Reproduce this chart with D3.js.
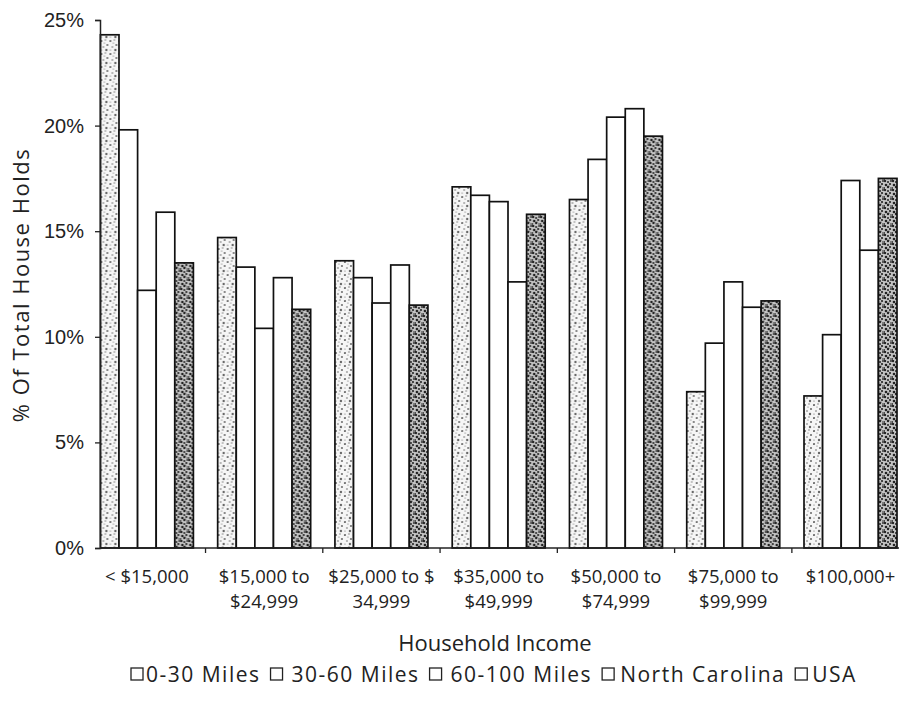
<!DOCTYPE html>
<html>
<head>
<meta charset="utf-8">
<script src="https://cdn.jsdelivr.net/npm/d3@7"></script>
<style>
  body { margin: 0; background: #fff; }
  svg { display: block; font-family: "Open Sans", sans-serif; }
</style>
</head>
<body>
<svg id="chart"></svg>
<script>
// income brackets, two label lines each
const categories = ["< $15,000", "$15,000 to $24,999", "$25,000 to $ 34,999", "$35,000 to $49,999",
    "$50,000 to $74,999", "$75,000 to $99,999", "$100,000+"];
const categoryLines = [["< $15,000"], ["$15,000 to", "$24,999"], ["$25,000 to $", "34,999"],
    ["$35,000 to", "$49,999"], ["$50,000 to", "$74,999"], ["$75,000 to", "$99,999"], ["$100,000+"]];

const seriesNames = ["0-30 Miles", "30-60 Miles", "60-100 Miles", "North Carolina", "USA"];

// % of households, one array per series
const miles0_30 = [24.3, 14.7, 13.6, 17.1, 16.5, 7.4, 7.2];
const miles30_60 = [19.8, 13.3, 12.8, 16.7, 18.4, 9.7, 10.1];
const miles60_100 = [12.2, 10.4, 11.6, 16.4, 20.4, 12.6, 17.4];
const northCarolina = [15.9, 12.8, 13.4, 12.6, 20.8, 11.4, 14.1];
const usa = [13.5, 11.3, 11.5, 15.8, 19.5, 11.7, 17.5];

const yTicks = [0, 5, 10, 15, 20, 25];

const seriesValues = [miles0_30, miles30_60, miles60_100, northCarolina, usa];
const fills = ["url(#speckleLight)", "#fff", "#fff", "#fff", "url(#speckleDark)"];

const W = 899, H = 706;
const svg = d3.select("#chart").attr("width", W).attr("height", H);

svg.append("rect").attr("width", W).attr("height", H).attr("fill", "#fff");

// speckle textures imitating the photocopied shading
const defs = svg.append("defs");
const light = defs.append("pattern").attr("id", "speckleLight")
    .attr("patternUnits", "userSpaceOnUse").attr("width", 9).attr("height", 13);
light.append("rect").attr("width", 9).attr("height", 13).attr("fill", "#f6f6f6");
[[1, 2, 1.1], [5, 1, 0.7], [7, 6, 1.0], [3, 8, 0.8], [6, 11, 1.2], [1, 11, 0.6], [4, 4, 0.6]].forEach(d => {
    light.append("circle").attr("cx", d[0]).attr("cy", d[1]).attr("r", d[2]).attr("fill", "#666");
});
const dark = defs.append("pattern").attr("id", "speckleDark")
    .attr("patternUnits", "userSpaceOnUse").attr("width", 8).attr("height", 9);
dark.append("rect").attr("width", 8).attr("height", 9).attr("fill", "#c4c4c4");
[[1, 1, 1.2], [4, 2, 1.0], [7, 1, 0.9], [2, 5, 1.3], [6, 4, 1.1], [0, 8, 1.0], [4, 7, 1.2], [7, 8, 0.8], [5, 6, 0.6]].forEach(d => {
    dark.append("circle").attr("cx", d[0]).attr("cy", d[1]).attr("r", d[2]).attr("fill", "#222");
});

const x0 = 100.4;
const xScale = d3.scaleBand()
    .domain(categories)
    .range([x0, 897])
    .paddingInner(0.207)
    .paddingOuter(0)
    .align(0);

const xSub = d3.scaleBand()
    .domain(d3.range(seriesNames.length))
    .range([0, xScale.bandwidth()]);

const yScale = d3.scaleLinear().domain([0, 25]).range([548, 20]);

// bars
const groups = svg.selectAll(".grp")
    .data(categories)
    .enter()
    .append("g")
    .attr("class", "grp")
    .attr("transform", d => `translate(${xScale(d)},0)`);

groups.selectAll("rect")
    .data((d, i) => seriesValues.map((s, k) => ({ k: k, v: s[i] })))
    .enter()
    .append("rect")
    .attr("x", d => xSub(d.k))
    .attr("y", d => yScale(d.v))
    .attr("width", xSub.bandwidth())
    .attr("height", d => yScale(0) - yScale(d.v))
    .attr("fill", d => fills[d.k])
    .attr("stroke", "#111")
    .attr("stroke-width", 1.7);

//ось oy
const yAxis = svg.append("g")
    .attr("transform", `translate(${x0 - 0.4},0)`)
    .call(d3.axisLeft(yScale).tickValues(yTicks).tickSize(5).tickFormat(d => d + "%"));
yAxis.select(".domain").attr("stroke", "#222").attr("stroke-width", 1.5);
yAxis.selectAll(".tick line").attr("stroke", "#222").attr("stroke-width", 1.3);
yAxis.selectAll("text")
    .attr("x", -16)
    .style("font-size", "20px")
    .style("fill", "#222");

//ось ox
const step = xScale.step();
const boundaries = categories.slice(1).map(c => xScale(c) - (step - xScale.bandwidth()) / 2);
const xAxisG = svg.append("g").attr("transform", `translate(0,${yScale(0)})`);
xAxisG.append("line")
    .attr("x1", x0).attr("x2", W)
    .attr("stroke", "#222").attr("stroke-width", 1.5);
xAxisG.selectAll(".xt")
    .data(boundaries)
    .enter()
    .append("line")
    .attr("x1", d => d).attr("x2", d => d)
    .attr("y1", 0).attr("y2", 5)
    .attr("stroke", "#222").attr("stroke-width", 1.3);

// category labels
svg.selectAll(".xlab")
    .data(categories)
    .enter()
    .append("text")
    .attr("class", "xlab")
    .attr("text-anchor", "middle")
    .attr("transform", d => `translate(${xScale(d) + xScale.bandwidth() / 2},583)`)
    .style("font-size", "18.5px")
    .style("fill", "#222")
    .each(function (d, i) {
        const t = d3.select(this);
        categoryLines[i].forEach((line, j) => {
            t.append("tspan").attr("x", 0).attr("y", j * 25).text(line);
        });
    });

//подпись оси ox
svg.append("text")
    .attr("x", 495)
    .attr("y", 651)
    .attr("text-anchor", "middle")
    .style("font-size", "22px")
    .style("fill", "#222")
    .text("Household Income");

//подпись оси oy
svg.append("text")
    .attr("transform", "translate(29,285) rotate(-90)")
    .attr("text-anchor", "middle")
    .style("font-size", "22px")
    .style("letter-spacing", "1.5px")
    .style("fill", "#222")
    .text("% Of Total House Holds");

// legend
const legend = svg.append("g").attr("transform", "translate(0,682)");
let lx = 131;
const legendGap = [3, 9, 9, 6, 5];
seriesNames.forEach((name, k) => {
    legend.append("rect")
        .attr("x", lx).attr("y", -14)
        .attr("width", 12).attr("height", 12)
        .attr("fill", "#fff").attr("stroke", "#222").attr("stroke-width", 1.3);
    const t = legend.append("text")
        .attr("x", lx + 12 + legendGap[k])
        .attr("y", 0)
        .style("font-size", "21px")
        .style("letter-spacing", "1.5px")
        .style("fill", "#222")
        .text(name);
    lx += 12 + legendGap[k] + t.node().getComputedTextLength() + 10;
});
</script>
</body>
</html>
